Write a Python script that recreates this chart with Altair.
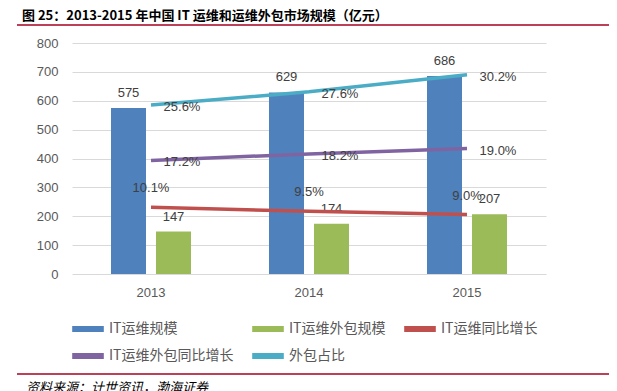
import altair as alt
import pandas as pd

# ---- data ----
years = ["2013", "2014", "2015"]
it_scale = [575, 629, 686]                # IT运维规模 (亿元)
outsourcing_scale = [147, 174, 207]       # IT运维外包规模 (亿元)
it_growth = [0.101, 0.095, 0.090]         # IT运维同比增长
outsourcing_growth = [0.172, 0.182, 0.190]  # IT运维外包同比增长
outsourcing_share = [0.256, 0.276, 0.302]   # 外包占比

bar_series = ["IT运维规模", "IT运维外包规模"]
line_series = ["IT运维同比增长", "IT运维外包同比增长", "外包占比"]
all_series = bar_series + line_series
series_colors = ["#4f81bd", "#9bbb59", "#c0504d", "#8064a2", "#4bacc6"]

left_ticks = [0, 100, 200, 300, 400, 500, 600, 700, 800]
right_ticks = [0, 0.05, 0.10, 0.15, 0.20, 0.25, 0.30, 0.35]

title_text = "图 25：2013-2015 年中国 IT 运维和运维外包市场规模（亿元）"
source_text = "资料来源：计世资讯，渤海证券"

# ---- tables ----
bars_df = pd.DataFrame(
    [{"year": y, "series": bar_series[0], "value": v} for y, v in zip(years, it_scale)]
    + [{"year": y, "series": bar_series[1], "value": v} for y, v in zip(years, outsourcing_scale)]
)
lines_df = pd.DataFrame(
    [{"year": y, "series": line_series[0], "value": v} for y, v in zip(years, it_growth)]
    + [{"year": y, "series": line_series[1], "value": v} for y, v in zip(years, outsourcing_growth)]
    + [{"year": y, "series": line_series[2], "value": v} for y, v in zip(years, outsourcing_share)]
)
dummy = pd.DataFrame({"k": [0]})

NUM_FONT = "Liberation Sans"
CJK_FONT = "Noto Sans CJK SC"
LABEL_GREY = "#595959"
DATA_GREY = "#404040"

x_enc = alt.X(
    "year:N",
    scale=alt.Scale(domain=years, paddingInner=0, paddingOuter=0),
    axis=alt.Axis(title=None, labelAngle=0, ticks=False, domain=False,
                  labelPadding=12, labelFontSize=13, labelColor=LABEL_GREY,
                  labelFont=NUM_FONT),
)
color_scale = alt.Scale(domain=all_series, range=series_colors)

legend = alt.Legend(
    title=None, orient="none", legendX=0, legendY=270, columns=3,
    direction="horizontal", gridAlign="each", columnPadding=18, rowPadding=4,
    symbolType="M-1,-0.19H1V0.19H-1Z", symbolSize=1000,
    symbolStrokeWidth=0, labelOffset=5,
    labelFontSize=14, labelColor=LABEL_GREY, labelFont=CJK_FONT,
    labelLimit=300,
)

y_left = alt.Y(
    "value:Q",
    scale=alt.Scale(domain=[0, 800]),
    axis=alt.Axis(title=None, values=left_ticks, grid=True, gridColor="#d9d9d9",
                  domain=False, ticks=False, labelPadding=14, labelFontSize=13,
                  labelColor=LABEL_GREY, labelFont=NUM_FONT, orient="left"),
)
x_off = alt.XOffset("series:N", scale=alt.Scale(domain=bar_series, paddingInner=0.222, paddingOuter=0.867))

bars = alt.Chart(bars_df).mark_bar().encode(
    x=x_enc, xOffset=x_off, y=y_left,
    color=alt.Color("series:N", scale=color_scale, legend=legend),
)
bar_labels = alt.Chart(bars_df).mark_text(
    baseline="middle", dy=-15, fontSize=13, font=NUM_FONT, color=DATA_GREY
).encode(x=x_enc, xOffset=x_off, y=y_left, text=alt.Text("value:Q"))

left = alt.layer(bars, bar_labels)

y_right = alt.Y(
    "value:Q",
    scale=alt.Scale(domain=[0, 0.35]),
    axis=alt.Axis(title=None, values=right_ticks, format=".1%", grid=False,
                  domain=False, ticks=False, labelPadding=13, labelFontSize=13,
                  labelColor=LABEL_GREY, labelFont=NUM_FONT, orient="right"),
)
y_right_noaxis = alt.Y("value:Q", scale=alt.Scale(domain=[0, 0.35]), axis=None)

lines = alt.Chart(lines_df).mark_line(strokeWidth=3.5).encode(
    x=x_enc, y=y_right,
    color=alt.Color("series:N", scale=color_scale, legend=None),
    detail="series:N",
)
labels_right = alt.Chart(lines_df).transform_filter(
    alt.FieldOneOfPredicate(field="series", oneOf=[line_series[1], line_series[2]])
).mark_text(align="center", baseline="middle", dx=31, dy=2, fontSize=13,
            font=NUM_FONT, color=DATA_GREY).encode(
    x=x_enc, y=y_right_noaxis, text=alt.Text("value:Q", format=".1%"))
labels_above = alt.Chart(lines_df).transform_filter(
    alt.FieldEqualPredicate(field="series", equal=line_series[0])
).mark_text(align="center", baseline="middle", dx=0, dy=-19, fontSize=13,
            font=NUM_FONT, color=DATA_GREY).encode(
    x=x_enc, y=y_right_noaxis, text=alt.Text("value:Q", format=".1%"))

right = alt.layer(lines, labels_right, labels_above)

# decorations: title, rules under title and above source, source note
title = alt.Chart(dummy).mark_text(
    align="left", baseline="middle", fontSize=13, font=CJK_FONT, fontWeight="bold",
    color="#000000").encode(x=alt.value(-50), y=alt.value(-27), text=alt.value(title_text))
title_rule = alt.Chart(dummy).mark_rule(color="#a50021", strokeWidth=1.5).encode(
    x=alt.value(-55), x2=alt.value(545), y=alt.value(-18))
source_rule = alt.Chart(dummy).mark_rule(color="#a50021", strokeWidth=1.5).encode(
    x=alt.value(-55), x2=alt.value(545), y=alt.value(331))
source = alt.Chart(dummy).mark_text(
    align="left", baseline="top", fontSize=13, font=CJK_FONT, fontStyle="italic",
    color="#000000").encode(x=alt.value(-46), y=alt.value(339), text=alt.value(source_text))

chart = alt.layer(left, right, title, title_rule, source_rule, source).resolve_scale(
    y="independent"
).properties(
    width=474, height=231,
    padding={"left": 64, "top": 35, "right": 63, "bottom": 117},
    autosize=alt.AutoSizeParams(type="none"),
).configure_view(stroke=None)

chart.save("out.html", embed_options={"renderer": "svg", "actions": False})
